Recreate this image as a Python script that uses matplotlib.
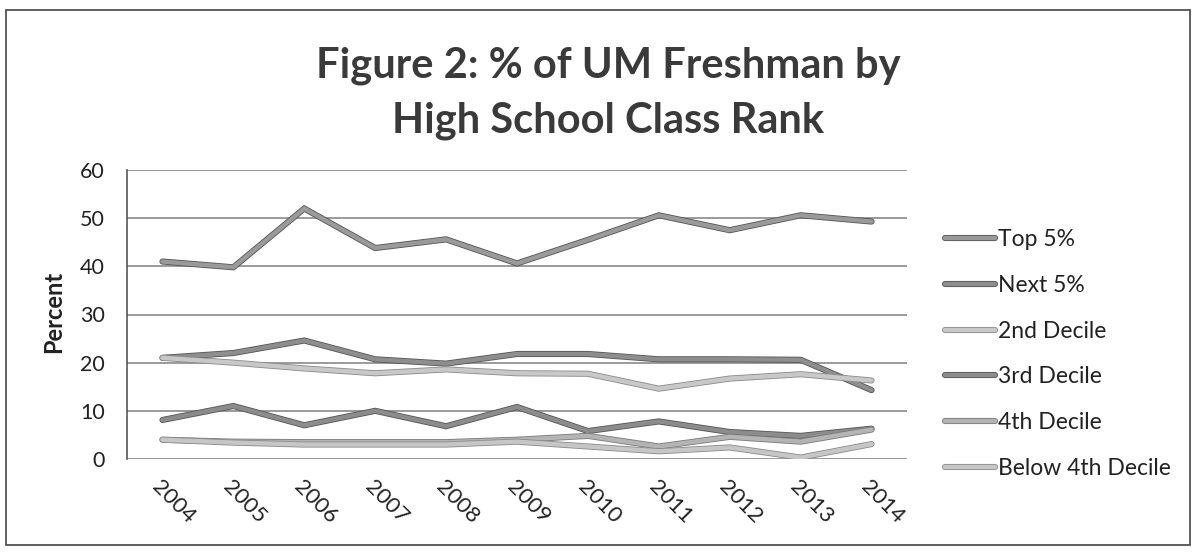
import matplotlib
matplotlib.use("Agg")
import matplotlib.pyplot as plt
import matplotlib.patheffects as pe
from matplotlib.patches import Rectangle

years = ["2004", "2005", "2006", "2007", "2008", "2009", "2010", "2011", "2012", "2013", "2014"]
top5 = [41, 39.8, 52, 43.8, 45.6, 40.6, 45.5, 50.6, 47.5, 50.6, 49.3]
next5 = [21, 22, 24.6, 20.7, 19.8, 21.8, 21.8, 20.7, 20.7, 20.6, 14.3]
dec2 = [21, 20, 18.8, 17.8, 18.6, 17.8, 17.7, 14.6, 16.7, 17.6, 16.3]
dec3 = [8.1, 11.0, 7.0, 10.0, 6.8, 10.8, 5.8, 7.8, 5.6, 4.8, 6.3]
dec4 = [4, 3.6, 3.5, 3.5, 3.5, 4.0, 4.8, 2.6, 4.6, 3.6, 6.1]
below4 = [4, 3.4, 3.0, 3.0, 3.0, 3.6, 2.6, 1.6, 2.4, 0.3, 3.1]

labels = ["Top 5%", "Next 5%", "2nd Decile", "3rd Decile", "4th Decile", "Below 4th Decile"]
series = [top5, next5, dec2, dec3, dec4, below4]
colors = ["#9a9a9a", "#8e8e8e", "#c8c8c8", "#8c8c8c", "#b4b4b4", "#c6c6c6"]
edges = ["#555555", "#555555", "#8a8a8a", "#555555", "#7a7a7a", "#8a8a8a"]

plt.rcParams['font.family'] = ['Lato', 'DejaVu Sans']

fig = plt.figure(figsize=(11.95, 5.54), dpi=100)
ax = fig.add_axes([127/1195, 1-459/554, (907-127)/1195, (459-170)/554])

x = list(range(len(years)))
for vals, lab, c, ec in zip(series, labels, colors, edges):
    ax.plot(x, vals, color=c, lw=3.2, label=lab, solid_capstyle='round', solid_joinstyle='miter',
            path_effects=[pe.Stroke(linewidth=4.4, foreground=ec), pe.Normal()])

ax.set_xlim(-0.5, len(years) - 0.5)
ax.set_ylim(0, 60)
ax.set_yticks(range(0, 61, 10))
ax.set_xticks(x)
ax.set_xticklabels(years, rotation=-45, ha='left', va='top', rotation_mode='anchor', fontsize=16, color='#222222')
ax.tick_params(axis='y', labelsize=15.5, labelcolor='#222222', length=0, pad=16)
ax.tick_params(axis='x', length=0, pad=13)
ax.grid(axis='y', color='#808080', lw=1.1)
ax.set_axisbelow(True)
for s in ['top', 'right', 'bottom']:
    ax.spines[s].set_visible(False)
ax.spines['left'].set_color('#555555')
ax.spines['left'].set_linewidth(1.2)

ax.set_ylabel("Percent", fontsize=17, fontweight='bold', color='#222222')
ax.yaxis.set_label_coords((65 - 127) / 780, (459 - 312) / 289)

leg = ax.legend(loc='upper left', bbox_to_anchor=(1.0487, 0.795), frameon=False, fontsize=16.5,
                handlelength=2.2, handletextpad=0.1, labelspacing=1.08, borderaxespad=0, borderpad=0)
for t in leg.get_texts():
    t.set_color('#222222')

fig.text(0.509, 0.881, "Figure 2: % of UM Freshman by", ha='center', va='center',
         fontsize=30, fontweight='bold', color='#3a3a3a')
fig.text(0.509, 0.782, "High School Class Rank", ha='center', va='center',
         fontsize=30, fontweight='bold', color='#3a3a3a')

fig.patches.append(Rectangle((6/1195, 1-545/554), (1190-6)/1195, (545-10)/554,
                             transform=fig.transFigure, fill=False, edgecolor='#444444', lw=1.2))

fig.savefig("out.png", dpi=100, facecolor='white')
